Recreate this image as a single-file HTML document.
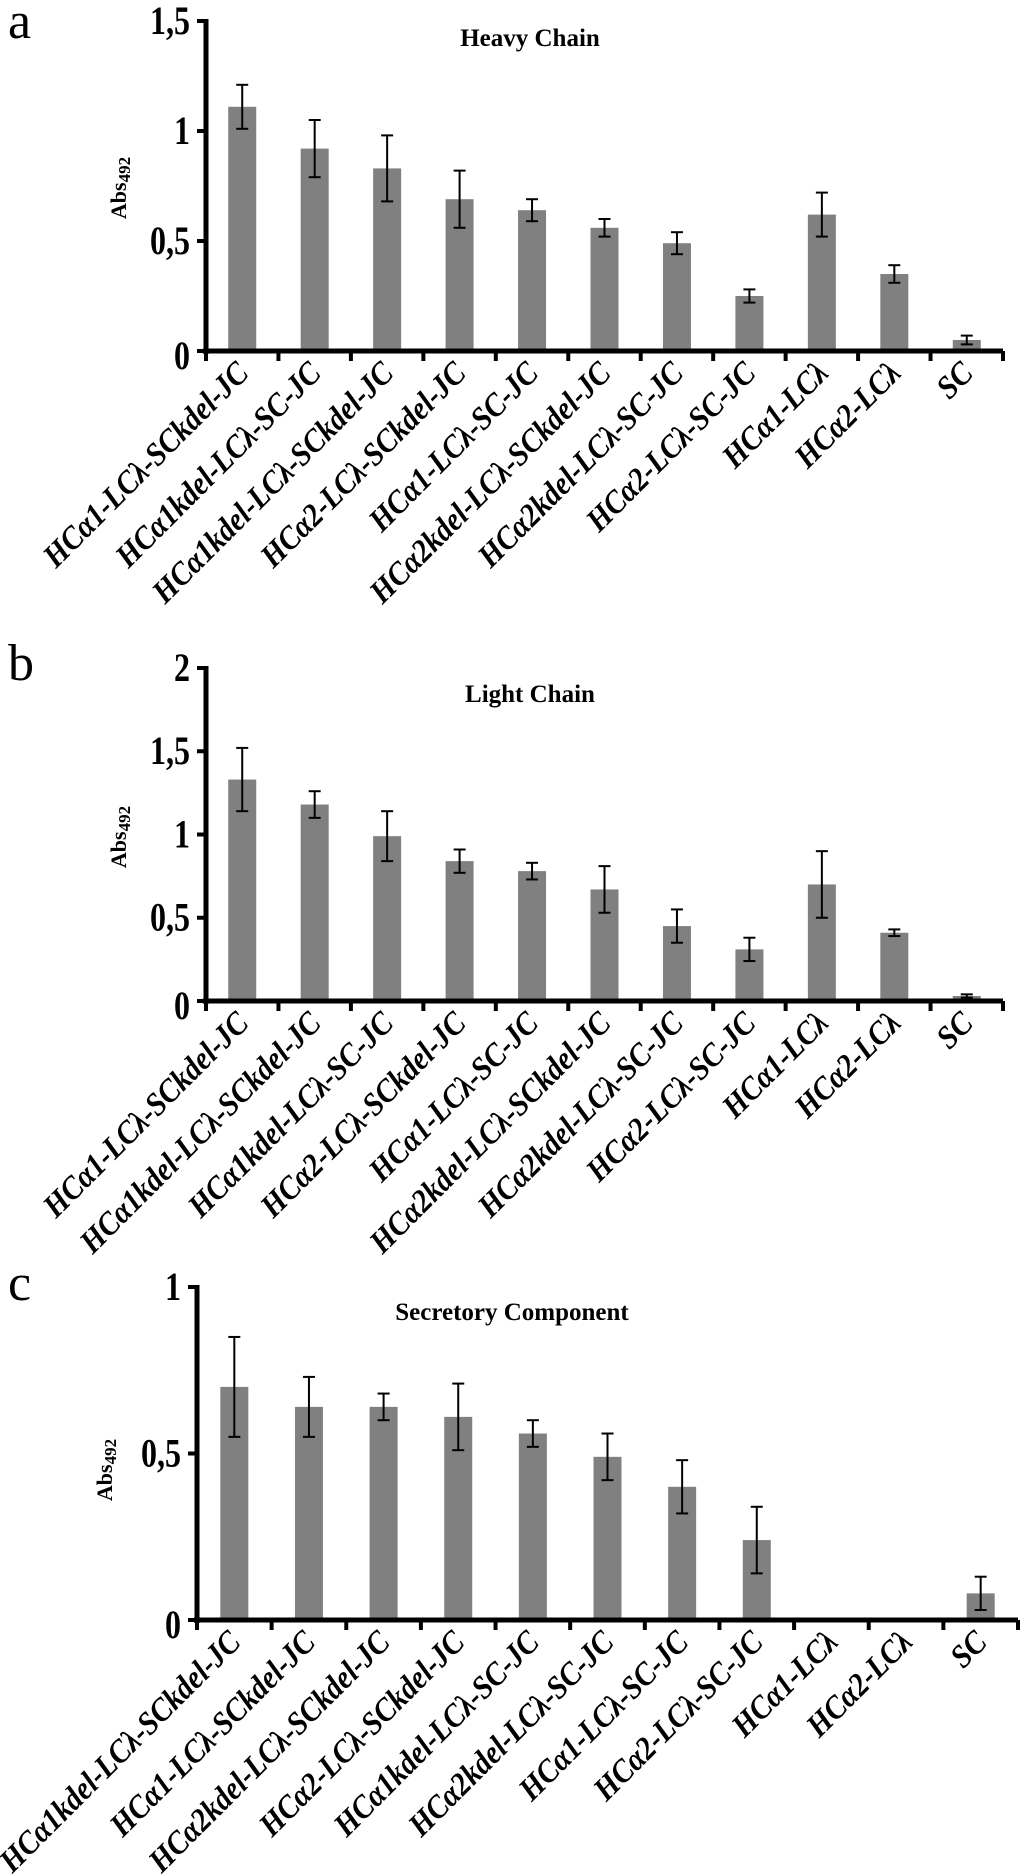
<!DOCTYPE html>
<html><head><meta charset="utf-8"><style>
body{margin:0;background:#fff;}
svg{display:block;font-family:"Liberation Serif",serif;}
</style></head><body>
<svg id="fig" width="1024" height="1876" viewBox="0 0 1024 1876"></svg>
<script>
const catsA=["HCα1-LCλ-SCkdel-JC","HCα1kdel-LCλ-SC-JC","HCα1kdel-LCλ-SCkdel-JC","HCα2-LCλ-SCkdel-JC","HCα1-LCλ-SC-JC","HCα2kdel-LCλ-SCkdel-JC","HCα2kdel-LCλ-SC-JC","HCα2-LCλ-SC-JC","HCα1-LCλ","HCα2-LCλ","SC"];
const valsA=[1.11,0.92,0.83,0.69,0.64,0.56,0.49,0.25,0.62,0.35,0.05];
const errA=[0.10,0.13,0.15,0.13,0.05,0.04,0.05,0.03,0.10,0.04,0.02];
const ticksA=["0","0,5","1","1,5"];
const catsB=["HCα1-LCλ-SCkdel-JC","HCα1kdel-LCλ-SCkdel-JC","HCα1kdel-LCλ-SC-JC","HCα2-LCλ-SCkdel-JC","HCα1-LCλ-SC-JC","HCα2kdel-LCλ-SCkdel-JC","HCα2kdel-LCλ-SC-JC","HCα2-LCλ-SC-JC","HCα1-LCλ","HCα2-LCλ","SC"];
const valsB=[1.33,1.18,0.99,0.84,0.78,0.67,0.45,0.31,0.70,0.41,0.03];
const errB=[0.19,0.08,0.15,0.07,0.05,0.14,0.10,0.07,0.20,0.02,0.01];
const ticksB=["0","0,5","1","1,5","2"];
const catsC=["HCα1kdel-LCλ-SCkdel-JC","HCα1-LCλ-SCkdel-JC","HCα2kdel-LCλ-SCkdel-JC","HCα2-LCλ-SCkdel-JC","HCα1kdel-LCλ-SC-JC","HCα2kdel-LCλ-SC-JC","HCα1-LCλ-SC-JC","HCα2-LCλ-SC-JC","HCα1-LCλ","HCα2-LCλ","SC"];
const valsC=[0.70,0.64,0.64,0.61,0.56,0.49,0.40,0.24,0,0,0.08];
const errC=[0.15,0.09,0.04,0.10,0.04,0.07,0.08,0.10,0,0,0.05];
const ticksC=["0","0,5","1"];

const NS="http://www.w3.org/2000/svg";
const svg=document.getElementById('fig');
function mk(tag,attrs,parent){const e=document.createElementNS(NS,tag);for(const k in attrs)e.setAttribute(k,attrs[k]);(parent||svg).appendChild(e);return e;}

function panel(cfg){
  const g=mk('g',{});
  
  
  const {x0,x1,yTop,yZero,max,cats,vals,errs,ticks}=cfg;
  const y=v=>yZero-(v/max)*(yZero-yTop);
  const bw=(x1-x0)/cats.length;
  const xc=i=>x0+bw*(i+0.5);
  const L=mk('text',{x:8,y:cfg.letterY,'font-size':52},g);L.textContent=cfg.letter;
  
  
  const T=mk('text',{x:cfg.titleX,y:cfg.titleY,'font-size':25,'font-weight':'bold','text-anchor':'middle'},g);T.textContent=cfg.title;
  
  
  const YT=mk('text',{transform:`translate(${cfg.yTitleX},${cfg.yTitleY}) rotate(-90)`,'font-size':22,'font-weight':'bold','text-anchor':'middle'},g);
  YT.innerHTML='Abs<tspan font-size="17" dy="4">492</tspan>';
  
  
  vals.forEach((v,i)=>{
    const r=mk('rect',{x:xc(i)-14,y:y(v),width:28,height:yZero-y(v),fill:'#808080'},g);
    
    
    if(errs[i]>0){
      const eg=mk('g',{stroke:'#000','stroke-width':2},g);
      
      
      mk('line',{x1:xc(i),x2:xc(i),y1:y(v+errs[i]),y2:y(v-errs[i])},eg);
      mk('line',{x1:xc(i)-6,x2:xc(i)+6,y1:y(v+errs[i]),y2:y(v+errs[i])},eg);
      mk('line',{x1:xc(i)-6,x2:xc(i)+6,y1:y(v-errs[i]),y2:y(v-errs[i])},eg);
    }
  });
  const ya=mk('line',{x1:x0,x2:x0,y1:yTop-2,y2:yZero+3,stroke:'#000','stroke-width':5},g);
  
  
  const xa=mk('line',{x1:x0-3,x2:x1,y1:yZero,y2:yZero,stroke:'#000','stroke-width':5},g);
  
  
  ticks.forEach((t,i)=>{
    const v=i*0.5;
    mk('line',{x1:x0-9,x2:x0,y1:y(v),y2:y(v),stroke:'#000','stroke-width':4},g);
    const ax=x0-16;
    const tx=mk('text',{x:ax,y:y(v)+(i==0?18:13),'font-size':40,'font-weight':'bold','text-anchor':'end',transform:`translate(${ax} 0) scale(0.8 1) translate(${-ax} 0)`},g);
    tx.textContent=t;
    
    
  });
  for(let i=0;i<=cats.length;i++){
    const xx=x0+bw*i;
    mk('line',{x1:xx,x2:xx,y1:yZero,y2:yZero+10,stroke:'#000','stroke-width':4},g);
  }
  cats.forEach((c,i)=>{
    const tx=xc(i)+8, ty=yZero+24;
    const t=mk('text',{transform:`translate(${tx},${ty}) rotate(-45) scale(0.95 1.05)`,'font-size':31,'font-weight':'bold','font-style':'italic','text-anchor':'end'},g);
    t.textContent=c;
    
    
  });
}
panel({name:'heavy-chain-chart',letter:'a',letterY:38,title:'Heavy Chain',titleX:530,titleY:46,yTitleX:126,yTitleY:188,x0:206,x1:1003,yTop:21,yZero:351,max:1.5,cats:catsA,vals:valsA,errs:errA,ticks:ticksA});
panel({name:'light-chain-chart',letter:'b',letterY:680,title:'Light Chain',titleX:530,titleY:702,yTitleX:126,yTitleY:837,x0:206,x1:1003,yTop:668,yZero:1001,max:2,cats:catsB,vals:valsB,errs:errB,ticks:ticksB});
panel({name:'secretory-component-chart',letter:'c',letterY:1300,title:'Secretory Component',titleX:512,titleY:1320,yTitleX:112,yTitleY:1470,x0:197,x1:1018,yTop:1287,yZero:1620,max:1,cats:catsC,vals:valsC,errs:errC,ticks:ticksC});
</script>
</body></html>
